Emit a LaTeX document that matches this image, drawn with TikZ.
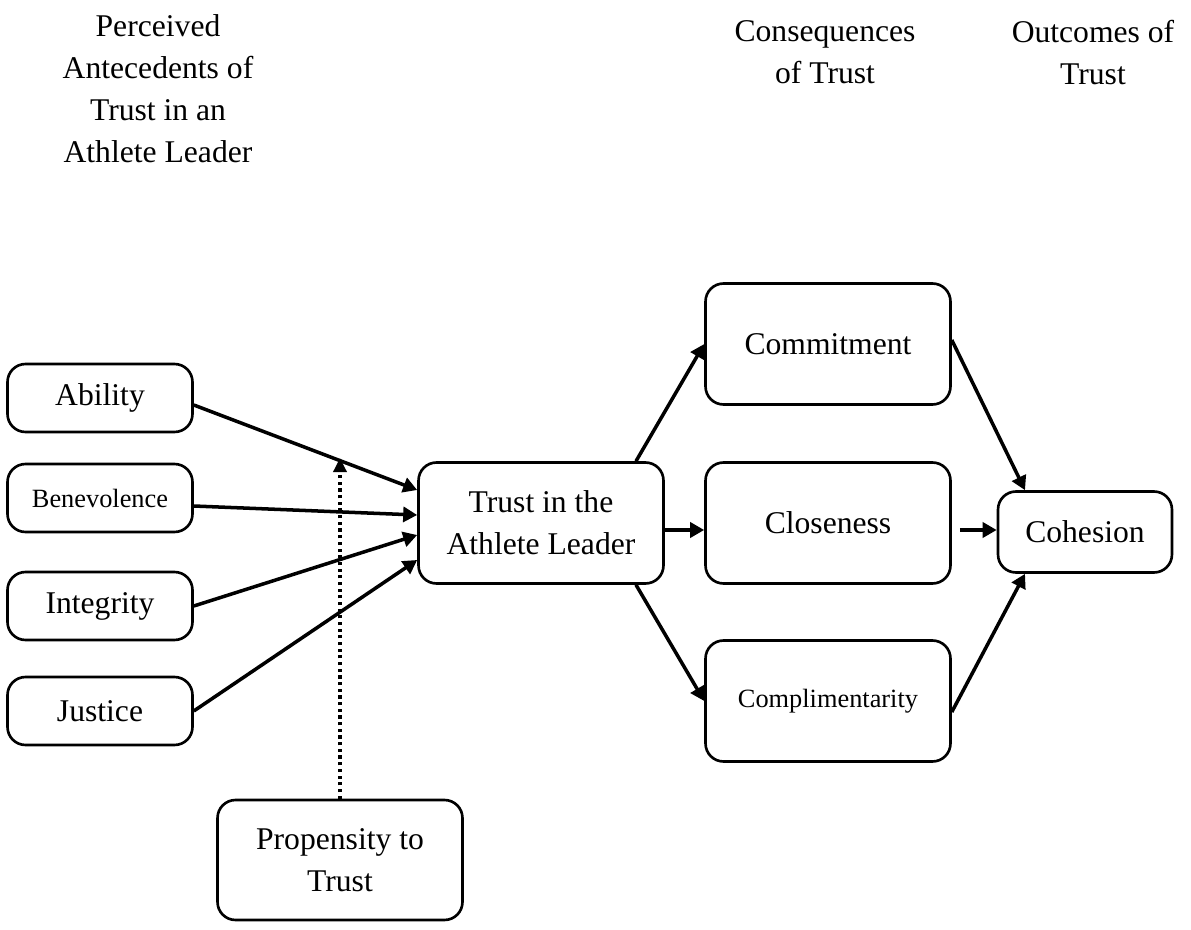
\documentclass[tikz,border=0pt]{standalone}
\usepackage{fontspec}
\setmainfont{Liberation Serif}
\usetikzlibrary{arrows.meta}
\tikzset{
	box/.style = {draw=black, line width=1.5pt, rounded corners=0.36cm, align=center, inner sep=2pt, font=\fontsize{18}{24}\selectfont},
	antbox/.style = {box, minimum width=3.7cm, minimum height=1.36cm},
	bigbox/.style = {box, minimum width=4.9cm, minimum height=2.42cm},
	small/.style = {font=\fontsize{15}{20}\selectfont},
	header/.style = {align=center, font=\fontsize{18}{24}\selectfont},
	link/.style = {line width=2pt, -{Triangle[length=0.28cm,width=0.3cm]}},
	moderate/.style = {line width=1.9pt, dash pattern=on 1.8pt off 2pt, -{Triangle[length=0.28cm,width=0.26cm]}}
}

\begin{document}
\begin{tikzpicture}[x=0.02cm,y=-0.02cm]
	\useasboundingbox (0,0) rectangle (1191,930);
	% headers
	\node [header, anchor=north] (hant) at (158,8) {Perceived\\Antecedents of\\Trust in an\\Athlete Leader};
	\node [header, anchor=north] (hcon) at (825,14) {Consequences\\of Trust};
	\node [header, anchor=north] (hout) at (1093,14) {Outcomes of\\Trust};
	% antecedents
	\node [antbox] (ability) at (100,398) {Ability};
	\node [antbox, small] (benev) at (100,498) {Benevolence};
	\node [antbox] (integ) at (100,606) {Integrity};
	\node [antbox] (justice) at (100,711) {Justice};
	\node [bigbox, minimum height=2.4cm] (propen) at (340,860) {Propensity to\\Trust};
	% trust and consequences
	\node [bigbox] (trust) at (541,523) {Trust in the\\Athlete Leader};
	\node [bigbox] (commit) at (828,344) {Commitment};
	\node [bigbox] (close) at (828,523) {Closeness};
	\node [bigbox, small] (compl) at (828,701) {Complimentarity};
	\node [box, minimum width=3.48cm, minimum height=1.62cm] (cohes) at (1085,532) {Cohesion};
	\coordinate (modtop) at (340,458);
	% connectors
	\draw [moderate] (propen.north) -- (modtop);
	\draw [link] ([yshift=-0.14cm]ability.east) -- ([yshift=0.66cm]trust.west);
	\draw [link] ([yshift=-0.16cm]benev.east) -- ([yshift=0.16cm]trust.west);
	\draw [link] (integ.east) -- ([yshift=-0.24cm]trust.west);
	\draw [link] (justice.east) -- ([yshift=-0.74cm]trust.west);
	\draw [link] ([xshift=1.9cm]trust.north) -- (commit.west);
	\draw [link] ([yshift=-0.14cm]trust.east) -- ([yshift=-0.14cm]close.west);
	\draw [link] ([xshift=1.9cm]trust.south) -- (compl.west);
	\draw [link] ([yshift=0.08cm]commit.east) -- ([xshift=-1.2cm]cohes.north);
	\draw [link, shorten <=0.16cm] ([yshift=-0.14cm]close.east) -- ([yshift=-0.14cm]close.east -| cohes.west);
	\draw [link] ([yshift=-0.22cm]compl.east) -- ([xshift=-1.2cm]cohes.south);
\end{tikzpicture}
\end{document}
